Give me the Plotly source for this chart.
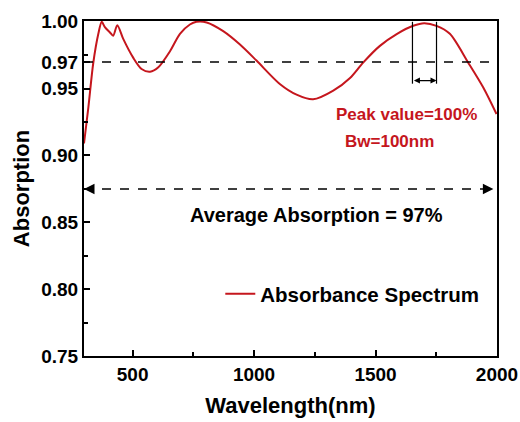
import plotly.graph_objects as go

# ---- data ----
wavelength = [300, 318, 338, 359, 373, 386, 407, 420, 437, 462, 503, 537, 572, 606, 654, 695,
              736, 763, 805, 873, 942, 1010, 1106, 1175, 1243, 1326, 1395, 1449, 1518, 1587,
              1655, 1700, 1751, 1806, 1881, 1943, 1998]
absorption = [0.909, 0.936, 0.969, 0.991, 1.000, 0.996, 0.992, 0.9896, 0.9975, 0.987, 0.973, 0.9647,
              0.9627, 0.966, 0.978, 0.991, 0.998, 1.000, 0.9995, 0.993, 0.983, 0.971, 0.9535,
              0.9455, 0.942, 0.9485, 0.958, 0.9695, 0.982, 0.9908, 0.997, 0.999, 0.997, 0.991,
              0.9696, 0.951, 0.931]

x_ticks = [500, 1000, 1500, 2000]
x_minor = [750, 1250, 1750]
y_ticks = [0.75, 0.80, 0.85, 0.90, 0.95, 0.97, 1.00]
y_labels = ["0.75", "0.80", "0.85", "0.90", "0.95", "0.97", "1.00"]
y_minor = [0.775, 0.825, 0.875, 0.925, 0.975]

avg_level = 0.97
avg_arrow_y = 0.875
bw_left, bw_right = 1652, 1751
bw_bottom = 0.9537
bw_arrow_y = 0.956

RED = "#c5161d"
FONT = "Liberation Sans, Arial, sans-serif"

fig = go.Figure()
fig.add_trace(go.Scatter(x=wavelength, y=absorption, mode="lines",
                         line=dict(color=RED, width=2, shape="spline", smoothing=0.8),
                         name="Absorbance Spectrum"))

# dashed 97% line
fig.add_shape(type="line", x0=300, x1=1985, y0=avg_level, y1=avg_level, xref="x", yref="y",
              line=dict(color="black", width=1.5, dash="dash"))
# average arrow dashed line
fig.add_shape(type="line", x0=300, x1=1985, y0=avg_arrow_y, y1=avg_arrow_y, xref="x", yref="y",
              line=dict(color="black", width=1.5, dash="dash"))
for tip, tail in [(300, 345), (1985, 1940)]:
    fig.add_annotation(x=tip, y=avg_arrow_y, ax=tail, ay=avg_arrow_y, xref="x", yref="y",
                       axref="x", ayref="y", text="", showarrow=True, arrowhead=2,
                       arrowsize=1.4, arrowwidth=1.5, arrowcolor="black", standoff=0)

# bandwidth markers
for xv in [bw_left, bw_right]:
    fig.add_shape(type="line", x0=xv, x1=xv, y0=bw_bottom, y1=1.0, xref="x", yref="y",
                  line=dict(color="black", width=1.2))
fig.add_annotation(x=bw_right, y=bw_arrow_y, ax=bw_left, ay=bw_arrow_y, xref="x", yref="y",
                   axref="x", ayref="y", text="", showarrow=True, arrowhead=2, arrowside="end+start",
                   arrowsize=1, arrowwidth=1.2, arrowcolor="black", standoff=0, startstandoff=0)

fig.add_annotation(x=1629, y=0.9306, xref="x", yref="y", text="Peak value=100%", showarrow=False,
                   font=dict(family=FONT, size=17, color=RED, weight="bold"))
fig.add_annotation(x=1559, y=0.9104, xref="x", yref="y", text="Bw=100nm", showarrow=False,
                   font=dict(family=FONT, size=17, color=RED, weight="bold"))
fig.add_annotation(x=1259, y=0.8552, xref="x", yref="y", text="Average Absorption = 97%",
                   showarrow=False, font=dict(family=FONT, size=20, color="black", weight="bold"))

axis_common = dict(showline=True, linewidth=2, linecolor="black", mirror=True,
                   ticks="inside", ticklen=6, tickwidth=1.5, tickcolor="black",
                   showgrid=False, zeroline=False, automargin=False,
                   tickfont=dict(family=FONT, size=19, color="black", weight="bold"),
                   title_font=dict(family=FONT, size=22, color="black", weight="bold"))

fig.update_xaxes(range=[300, 2000], tickmode="array", tickvals=x_ticks,
                 minor=dict(tickmode="array", tickvals=x_minor, ticks="inside", ticklen=4,
                            tickcolor="black", tickwidth=1.5),
                 title_text="Wavelength(nm)", title_standoff=14, **axis_common)
fig.update_yaxes(range=[0.75, 1.0006], tickmode="array", tickvals=y_ticks, ticktext=y_labels,
                 minor=dict(tickmode="array", tickvals=y_minor, ticks="inside", ticklen=4,
                            tickcolor="black", tickwidth=1.5),
                 title_text="Absorption", title_standoff=6, **axis_common)

fig.update_layout(width=520, height=422, margin=dict(l=84, r=23, t=21, b=66),
                  paper_bgcolor="white", plot_bgcolor="white",
                  showlegend=True,
                  legend=dict(x=0.33, y=0.185, xanchor="left", yanchor="middle",
                              bgcolor="rgba(0,0,0,0)",
                              font=dict(family=FONT, size=20.5, color="black", weight="bold")))

fig.write_html("out.html")
